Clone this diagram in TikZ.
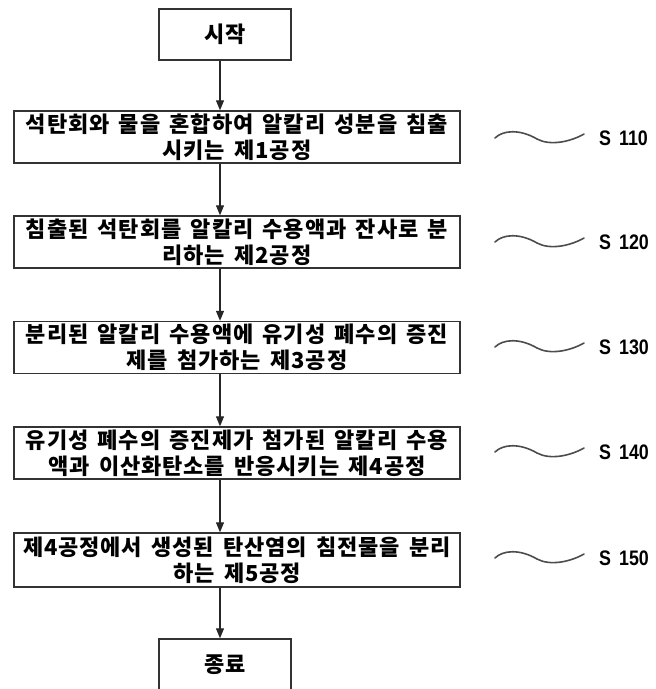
\documentclass[tikz,border=0pt]{standalone}
\usepackage{fontspec}
\newfontfamily\kr[WordSpace=1.6,LetterSpace=4]{Noto Sans CJK KR Black}
\newfontfamily\lab[FakeStretch=0.85]{Liberation Sans Bold}
\usetikzlibrary{arrows.meta}
\begin{document}
\begin{tikzpicture}[x=1pt,y=-1pt,
  box/.style={draw=black!80, line width=1.4pt, minimum width=446pt, minimum height=52pt,
    inner sep=0pt, align=center, font=\kr\fontsize{22}{26}\selectfont},
  term/.style={draw=black!80, line width=1.4pt, minimum width=132pt, minimum height=51pt,
    inner sep=0pt, align=center, font=\kr\fontsize{22}{26}\selectfont},
  arr/.style={line width=1.1pt, draw=black!85, -{Triangle[length=10pt,width=8pt]}},
  wave/.style={draw=black!70, line width=1.6pt, line cap=round},
  slab/.style={anchor=west, inner sep=0pt, font=\lab\fontsize{21}{21}\selectfont},
  tilde/.pic={\draw[wave] (-42,1) .. controls (-34,-7) and (-17,-8) .. (0,2) .. controls (13,9) and (33,5) .. (47,-3);}
]
\clip (0,0) rectangle (656,689);
\coordinate (ax) at (220,0);
\node[term] (start) at (225,34.5) {시작};
\node[box] (b1) at (237,137) {석탄회와 물을 혼합하여 알칼리 성분을 침출\\시키는 제1공정};
\node[box] (b2) at (237,242) {침출된 석탄회를 알칼리 수용액과 잔사로 분\\리하는 제2공정};
\node[box] (b3) at (237,347.5) {분리된 알칼리 수용액에 유기성 폐수의 증진\\제를 첨가하는 제3공정};
\node[box] (b4) at (237,453) {유기성 폐수의 증진제가 첨가된 알칼리 수용\\액과 이산화탄소를 반응시키는 제4공정};
\node[box, minimum height=54pt] (b5) at (237,560) {제4공정에서 생성된 탄산염의 침전물을 분리\\하는 제5공정};
\node[term, minimum height=52pt] (end) at (225,665) {종료};

\draw[arr] (start.south -| ax) -- (b1.north -| ax);
\draw[arr] (b1.south -| ax) -- (b2.north -| ax);
\draw[arr] (b2.south -| ax) -- (b3.north -| ax);
\draw[arr] (b3.south -| ax) -- (b4.north -| ax);
\draw[arr] (b4.south -| ax) -- (b5.north -| ax);
\draw[arr] (b5.south -| ax) -- (end.north -| ax);

\pic at (537,137) {tilde};
\pic at (537,241) {tilde};
\pic at (537,346) {tilde};
\pic at (537,451) {tilde};
\pic at (537,557) {tilde};
\node[slab] (s1) at (599,138) {S\hspace{8pt}110};
\node[slab] (s2) at (599,242) {S\hspace{8pt}120};
\node[slab] (s3) at (599,347) {S\hspace{8pt}130};
\node[slab] (s4) at (599,452) {S\hspace{8pt}140};
\node[slab] (s5) at (599,558) {S\hspace{8pt}150};
\end{tikzpicture}
\end{document}
